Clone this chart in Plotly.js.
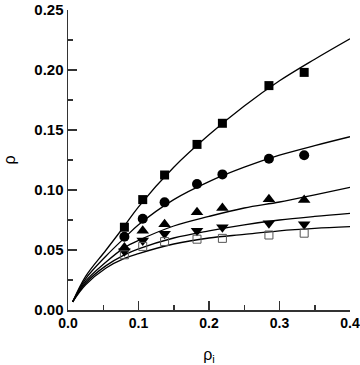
<!DOCTYPE html>
<html><head><meta charset="utf-8">
<script src="https://cdn.plot.ly/plotly-3.0.1.min.js"></script>
<style>body{margin:0;padding:0;background:#fff}#chart{width:360px;height:365px}</style>
</head><body><div id="chart"></div>
<script>
// measured points
const xPts = [0.08, 0.106, 0.137, 0.183, 0.219, 0.285, 0.335];
const ySquare = [0.069, 0.092, 0.1125, 0.138, 0.1556, 0.187, 0.198];
const yCircle = [0.061, 0.076, 0.0897, 0.105, 0.113, 0.126, 0.129];
const yTriUp = [0.052, 0.066, 0.0715, 0.0815, 0.085, 0.0922, 0.0917];
const yTriDown = [0.049, 0.058, 0.0635, 0.066, 0.069, 0.0722, 0.0714];
const yOpenSq = [0.046, 0.053, 0.057, 0.059, 0.0597, 0.0625, 0.064];

// fitted curves
const xFit = [0.0066, 0.025, 0.054, 0.08, 0.1, 0.15, 0.2, 0.25, 0.3, 0.35, 0.4];
const fitSquare = [0.0068, 0.028, 0.050, 0.070, 0.086, 0.119, 0.146, 0.170, 0.191, 0.209, 0.226];
const fitCircle = [0.0068, 0.026, 0.045, 0.060, 0.071, 0.092, 0.107, 0.119, 0.129, 0.137, 0.1444];
const fitTriUp = [0.0068, 0.024, 0.040, 0.052, 0.058, 0.070, 0.078, 0.085, 0.090, 0.096, 0.1022];
const fitTriDown = [0.0068, 0.0225, 0.037, 0.046, 0.051, 0.060, 0.066, 0.071, 0.075, 0.078, 0.0806];
const fitOpenSq = [0.0068, 0.021, 0.035, 0.043, 0.047, 0.055, 0.060, 0.063, 0.066, 0.068, 0.0694];

// tick labels
const xTickVals = [0, 0.1, 0.2, 0.3, 0.4];
const xTickText = ['0.0', '0.1', '0.2', '0.3', '0.4'];
const yTickVals = [0, 0.05, 0.1, 0.15, 0.2, 0.25];
const yTickText = ['0.00', '0.05', '0.10', '0.15', '0.20', '0.25'];

const fits = [fitSquare, fitCircle, fitTriUp, fitTriDown, fitOpenSq];
const pts = [
  {y: ySquare, sym: 'square', size: 9, color: '#000'},
  {y: yCircle, sym: 'circle', size: 10, color: '#000'},
  {y: yTriUp, sym: 'triangle-up', size: 11, color: '#000'},
  {y: yTriDown, sym: 'triangle-down', size: 11, color: '#000'},
  {y: yOpenSq, sym: 'square-open', size: 8, color: '#555'}
];
const traces = [];
fits.forEach(f => traces.push({x: xFit, y: f, mode: 'lines', line: {color: '#000', width: 1.3, shape: 'spline', smoothing: 1}, hoverinfo: 'none'}));
pts.forEach(p => traces.push({x: xPts, y: p.y, mode: 'markers', marker: {symbol: p.sym, size: p.size, color: p.color, line: {width: p.sym === 'square-open' ? 1 : 0, color: p.color}}}));

const fam = 'Liberation Sans, Arial, sans-serif';
const layout = {
  width: 360, height: 365,
  margin: {l: 68, r: 10, t: 10, b: 55},
  showlegend: false,
  paper_bgcolor: '#fff', plot_bgcolor: '#fff',
  xaxis: {
    range: [0, 0.4], tickmode: 'array', tickvals: xTickVals, ticktext: xTickText,
    ticks: 'inside', ticklen: 9, tickwidth: 1.5, tickcolor: '#333',
    minor: {tickmode: 'linear', tick0: 0, dtick: 0.05, ticks: 'inside', ticklen: 5, tickwidth: 1.5, tickcolor: '#333'},
    showline: true, linecolor: '#333', linewidth: 1.5, ticklabeloverflow: 'allow',
    showgrid: false, zeroline: false, automargin: false,
    tickfont: {family: fam, size: 14, color: '#000', weight: 'bold'},
    title: {text: 'ρ<sub>i</sub>', font: {family: fam, size: 16, color: '#000'}, standoff: 18}
  },
  yaxis: {
    range: [0, 0.25], tickmode: 'array', tickvals: yTickVals, ticktext: yTickText,
    ticks: 'inside', ticklen: 9, tickwidth: 1.5, tickcolor: '#333',
    minor: {tickmode: 'linear', tick0: 0, dtick: 0.025, ticks: 'inside', ticklen: 5, tickwidth: 1.5, tickcolor: '#333'},
    showline: true, linecolor: '#333', linewidth: 1.5,
    showgrid: false, zeroline: false, automargin: false,
    tickfont: {family: fam, size: 15, color: '#000', weight: 'bold'},
    title: {text: 'ρ', font: {family: fam, size: 16, color: '#000'}, standoff: 14}
  }
};
Plotly.newPlot('chart', traces, layout, {displayModeBar: false, staticPlot: true});
</script></body></html>
